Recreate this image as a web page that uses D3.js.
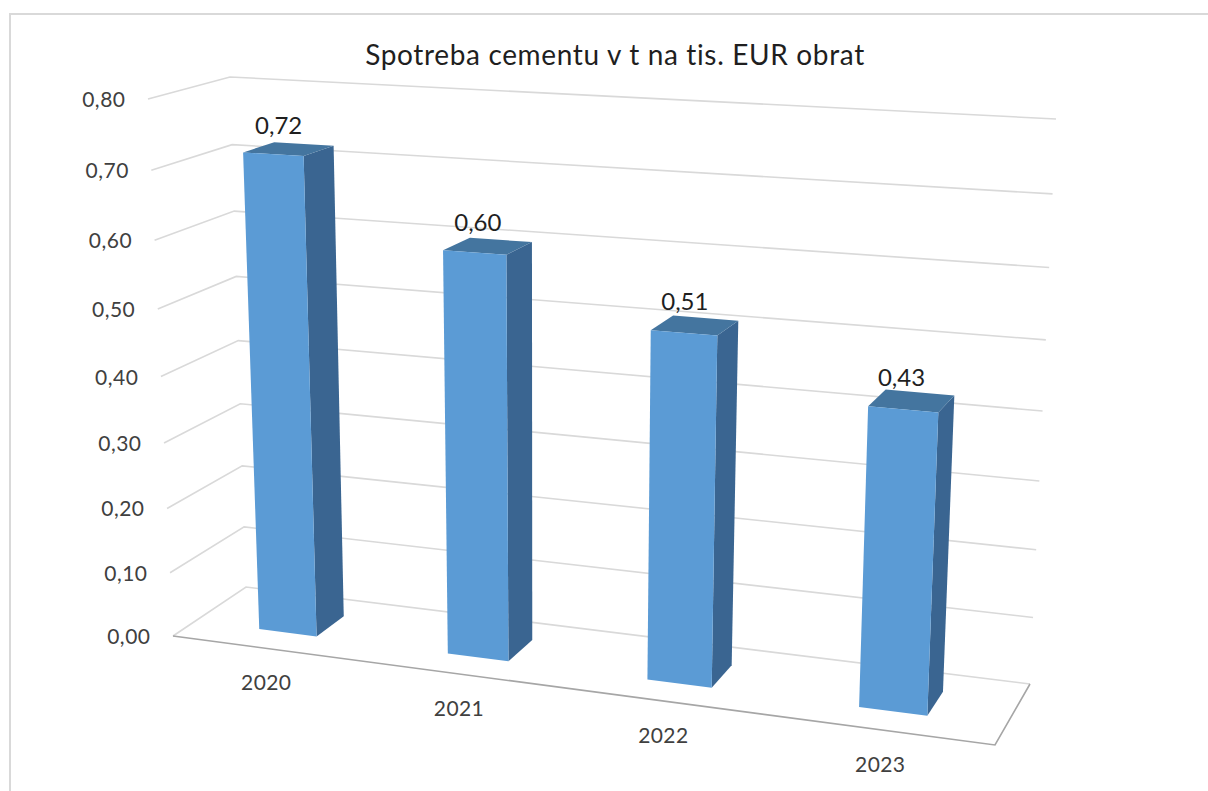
<!DOCTYPE html>
<html><head><meta charset="utf-8">
<script src="https://cdnjs.cloudflare.com/ajax/libs/d3/7.8.5/d3.min.js"></script>
<style>html,body{margin:0;padding:0;background:#fff;overflow:hidden}svg{display:block}text{font-family:Lato,"Noto Sans",sans-serif}</style>
</head><body><svg id="c" width="1208" height="791"></svg>
<script>
const title = "Spotreba cementu v t na tis. EUR obrat";
const categories = ["2020","2021","2022","2023"];
const values = [0.72,0.60,0.51,0.43];
const valueLabels = ["0,72","0,60","0,51","0,43"];
const ticks = [0,0.1,0.2,0.3,0.4,0.5,0.6,0.7,0.8];
const tickLabels = ["0,00","0,10","0,20","0,30","0,40","0,50","0,60","0,70","0,80"];

// picture-space corners of the 3D box: [front-left, back-left, back-right, front-right]
const floorCorners = [[173,636],[246,587],[1030,684],[995,745]];
const ceilCorners  = [[148,99],[230,77],[1056,119],[1020,146.5]];

function homography(c){ // unit square (u,w) -> quad: (0,0),(0,1),(1,1),(1,0)
  const [p0,p3,p2,p1]=c; // p0=(0,0) p1=(1,0) p2=(1,1) p3=(0,1)
  const dx1=p1[0]-p2[0],dx2=p3[0]-p2[0],sx=p0[0]-p1[0]+p2[0]-p3[0];
  const dy1=p1[1]-p2[1],dy2=p3[1]-p2[1],sy=p0[1]-p1[1]+p2[1]-p3[1];
  const det=dx1*dy2-dx2*dy1;
  const g=(sx*dy2-dx2*sy)/det,h=(dx1*sy-sx*dy1)/det;
  const a=p1[0]-p0[0]+g*p1[0],b=p3[0]-p0[0]+h*p3[0],cc=p0[0];
  const d=p1[1]-p0[1]+g*p1[1],e=p3[1]-p0[1]+h*p3[1],f=p0[1];
  return (u,w)=>{const q=g*u+h*w+1;return [(a*u+b*w+cc)/q,(d*u+e*w+f)/q];};
}
const floorH=homography(floorCorners), ceilH=homography(ceilCorners);
const y=d3.scaleLinear().domain([0,0.8]).range([0,1]);
const persp=1.07;
function project(u,val,w){
  const v=y(val), t=v/(v+(1-v)*persp);
  const a=floorH(u,w), b=ceilH(u,w);
  return [a[0]+(b[0]-a[0])*t, a[1]+(b[1]-a[1])*t];
}
const x=d3.scaleBand().domain(categories).range([0,1]).paddingInner(0.69).paddingOuter(0.35);
const depth=[0.3,0.7];
const line=d3.line().curve(d3.curveLinear);
const closed=d3.line().curve(d3.curveLinearClosed);

const svg=d3.select("#c");
// frame
svg.append("path").attr("d","M10,800V14H1220").attr("fill","none").attr("stroke","#d9d9d9").attr("stroke-width",2);

svg.append("text").attr("x",615).attr("y",65).attr("text-anchor","middle")
  .attr("font-size",28).attr("letter-spacing",0.65).attr("fill","#1f1f1f").text(title);

// gridlines
const grid=svg.append("g").attr("fill","none").attr("stroke","#d9d9d9").attr("stroke-width",1.6);
ticks.forEach(t=>{
  grid.append("path").attr("d",line([project(0,t,0),project(0,t,1),project(1,t,1)]));
});
// floor front and right edges
svg.append("path").attr("d",line([project(0,0,0),project(1,0,0),project(1,0,1)]))
  .attr("fill","none").attr("stroke","#a6a6a6").attr("stroke-width",1.6);

// tick labels
svg.append("g").selectAll("text").data(ticks).join("text")
  .attr("x",t=>project(0,t,0)[0]-22.5).attr("y",t=>project(0,t,0)[1]+8)
  .attr("text-anchor","end").attr("font-size",21).attr("letter-spacing",0.5).attr("fill","#404040")
  .text((t,i)=>tickLabels[i]);

// category labels
svg.append("g").selectAll("text").data(categories).join("text")
  .attr("x",c=>project(x(c)+x.bandwidth()/2,0,0)[0])
  .attr("y",c=>project(x(c)+x.bandwidth()/2,0,0)[1]+42)
  .attr("text-anchor","middle").attr("font-size",21).attr("letter-spacing",0.4).attr("fill","#404040").text(c=>c);

// bars
const bars=svg.append("g").selectAll("g").data(categories).join("g");
bars.each(function(c,i){
  const g=d3.select(this),u0=x(c),u1=x(c)+x.bandwidth(),v=values[i],[w0,w1]=depth;
  g.append("path").attr("fill","#3a6591").attr("d",closed([project(u1,0,w0),project(u1,v,w0),project(u1,v,w1),project(u1,0,w1)]));
  g.append("path").attr("fill","#44759f").attr("d",closed([project(u0,v,w0),project(u1,v,w0),project(u1,v,w1),project(u0,v,w1)]));
  g.append("path").attr("fill","#5b9bd5").attr("d",closed([project(u0,0,w0),project(u1,0,w0),project(u1,v,w0),project(u0,v,w0)]));
  const top=project((u0+u1)/2,v,(w0+w1)/2);
  g.append("text").attr("x",top[0]-10).attr("y",top[1]-15).attr("text-anchor","middle")
    .attr("font-size",24).attr("fill","#1f1f1f").text(valueLabels[i]);
});
</script></body></html>
